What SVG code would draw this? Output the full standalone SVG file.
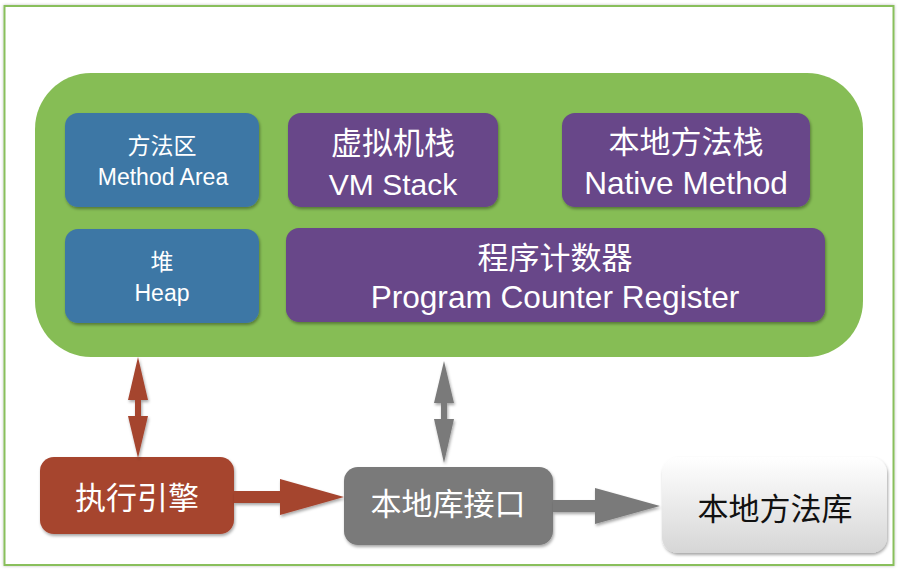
<svg xmlns="http://www.w3.org/2000/svg" width="900" height="570" viewBox="0 0 900 570">
<defs>
<filter id="sh" x="-10%" y="-10%" width="130%" height="140%">
<feDropShadow dx="1" dy="2" stdDeviation="1.5" flood-color="#000" flood-opacity="0.35"/>
</filter>
<filter id="fs" x="-2%" y="-2%" width="104%" height="104%">
<feDropShadow dx="0" dy="0" stdDeviation="1.5" flood-color="#000" flood-opacity="0.25"/>
</filter>
<linearGradient id="lib" x1="0" y1="0" x2="0" y2="1">
<stop offset="0" stop-color="#ffffff"/>
<stop offset="1" stop-color="#d6d6d6"/>
</linearGradient>
</defs>
<style>
.t{font-family:"Liberation Sans","Noto Sans CJK SC",sans-serif;fill:#fff;text-anchor:middle}
.blue{fill:#3e77a5}
.purple{fill:#674689}
.s{filter:url(#sh)}
</style>
<rect x="0" y="0" width="900" height="570" fill="#fff"/>
<rect id="frame" x="4.5" y="6" width="889" height="559" fill="#fff" stroke="#89bf5c" stroke-width="2" filter="url(#fs)"/>
<g id="runtime-area">
<rect x="35" y="73" width="828" height="284" rx="56" ry="56" fill="#86bd55"/>
</g>
<g id="method-area">
<rect class="blue s" x="65" y="113" width="194" height="94" rx="13"/>
<text class="t" x="162" y="154" font-size="23">方法区</text>
<text class="t" x="163" y="185" font-size="23">Method Area</text>
</g>
<g id="heap">
<rect class="blue s" x="65" y="229" width="194" height="94" rx="13"/>
<text class="t" x="162" y="270" font-size="23">堆</text>
<text class="t" x="162" y="301" font-size="23">Heap</text>
</g>
<g id="vm-stack">
<rect class="purple s" x="288" y="113" width="210" height="94" rx="13"/>
<text class="t" x="393" y="154" font-size="31">虚拟机栈</text>
<text class="t" x="393" y="195" font-size="30">VM Stack</text>
</g>
<g id="native-method-stack">
<rect class="purple s" x="562" y="113" width="248" height="94" rx="13"/>
<text class="t" x="686" y="153" font-size="31">本地方法栈</text>
<text class="t" x="686" y="194" font-size="31.6">Native Method</text>
</g>
<g id="pc-register">
<rect class="purple s" x="286" y="228" width="539" height="94" rx="13"/>
<text class="t" x="555" y="269" font-size="31">程序计数器</text>
<text class="t" x="555" y="308" font-size="31.6">Program Counter Register</text>
</g>
<g id="execution-engine">
<rect class="s" x="40" y="457" width="194" height="77" rx="14" fill="#a6442f"/>
<text class="t" x="137" y="509" font-size="31">执行引擎</text>
</g>
<g id="native-interface">
<rect class="s" x="344" y="467" width="209" height="78" rx="14" fill="#7a7a7a"/>
<text class="t" x="448" y="515" font-size="31">本地库接口</text>
</g>
<g id="native-library">
<rect class="s" x="662" y="457" width="225" height="96" rx="16" fill="url(#lib)"/>
<text class="t" x="775" y="520" font-size="31" style="fill:#111">本地方法库</text>
</g>
<g id="connectors">
<polygon class="s" fill="#a5442f" points="138,357 148,400 141,400 141,416 148,416 138,458 128,416 135,416 135,400 128,400"/>
<polygon class="s" fill="#7a7a7a" points="444,361 454,403 447,403 447,419 454,419 444,463 434,419 441,419 441,403 434,403"/>
<polygon class="s" fill="#a5442f" points="234,491 280,491 280,479 344,497 280,515 280,503 234,503"/>
<polygon class="s" fill="#7a7a7a" points="553,500 595,500 595,488 660,506 595,524 595,512 553,512"/>
</g>
</svg>
